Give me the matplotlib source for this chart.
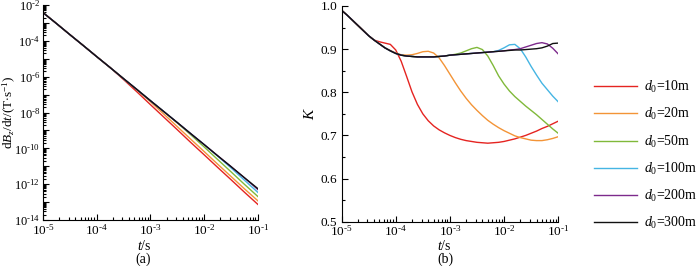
import numpy as np
import matplotlib
matplotlib.use('Agg')
import matplotlib.pyplot as plt
from matplotlib.ticker import FixedLocator, LogLocator, NullFormatter, MultipleLocator

plt.rcParams['font.family'] = 'Liberation Serif'
plt.rcParams['mathtext.fontset'] = 'custom'
plt.rcParams['mathtext.rm'] = 'Liberation Serif'
plt.rcParams['mathtext.it'] = 'Liberation Serif:italic'
plt.rcParams['font.size'] = 10

labels = ['$d_0$=10m', '$d_0$=20m', '$d_0$=50m', '$d_0$=100m', '$d_0$=200m', '$d_0$=300m']
colors = ['#e52421', '#f39437', '#80b93a', '#45b5e3', '#7d2a8c', '#111111']

# (a) log10(t) and log10(dBz/dt)
logt_a = [-5, -4.75, -4.5, -4.25, -4, -3.75, -3.5, -3.25, -3, -2.75, -2.5, -2.25, -2, -1.75, -1.5, -1.25, -1]
dbdt_10 = [-2.42, -3.03, -3.65, -4.26, -4.88, -5.49, -6.16, -6.85, -7.56, -8.26, -8.96, -9.67, -10.36, -11.06, -11.75, -12.45, -13.13]
dbdt_20 = [-2.42, -3.03, -3.65, -4.26, -4.88, -5.49, -6.11, -6.74, -7.40, -8.09, -8.79, -9.49, -10.18, -10.88, -11.57, -12.26, -12.93]
dbdt_50 = [-2.42, -3.03, -3.65, -4.26, -4.88, -5.49, -6.11, -6.72, -7.34, -7.95, -8.58, -9.24, -9.92, -10.62, -11.31, -12.01, -12.69]
dbdt_100 = [-2.42, -3.03, -3.65, -4.26, -4.88, -5.49, -6.11, -6.72, -7.34, -7.95, -8.56, -9.18, -9.79, -10.43, -11.09, -11.78, -12.46]
dbdt_200 = [-2.42, -3.03, -3.65, -4.26, -4.88, -5.49, -6.11, -6.72, -7.34, -7.95, -8.56, -9.18, -9.79, -10.41, -11.02, -11.65, -12.30]
dbdt_300 = [-2.42, -3.03, -3.65, -4.26, -4.88, -5.49, -6.11, -6.72, -7.34, -7.95, -8.56, -9.18, -9.79, -10.41, -11.02, -11.64, -12.25]

# (b) log10(t) and K
logt_b = [-5.0, -4.9, -4.8, -4.7, -4.6, -4.5, -4.4, -4.3, -4.2, -4.1, -4.0, -3.9, -3.8, -3.7,
          -3.6, -3.5, -3.4, -3.3, -3.2, -3.1, -3.0, -2.9, -2.8, -2.7, -2.6, -2.5, -2.4, -2.3,
          -2.2, -2.1, -2.0, -1.9, -1.8, -1.7, -1.6, -1.5, -1.4, -1.3, -1.2, -1.1, -1.0]
k_10 = [0.990, 0.979, 0.967, 0.955, 0.943, 0.931, 0.921, 0.917, 0.914, 0.911, 0.898, 0.872, 0.837, 0.801,
        0.772, 0.750, 0.734, 0.722, 0.713, 0.706, 0.700, 0.695, 0.691, 0.688, 0.686, 0.684, 0.683, 0.682,
        0.683, 0.684, 0.686, 0.689, 0.692, 0.696, 0.700, 0.705, 0.710, 0.716, 0.721, 0.727, 0.733]
k_20 = [0.990, 0.979, 0.967, 0.955, 0.943, 0.931, 0.921, 0.912, 0.903, 0.897, 0.891, 0.887, 0.886, 0.887,
        0.890, 0.894, 0.895, 0.891, 0.880, 0.862, 0.842, 0.822, 0.803, 0.786, 0.771, 0.758, 0.746, 0.735,
        0.726, 0.718, 0.711, 0.705, 0.699, 0.695, 0.692, 0.689, 0.688, 0.688, 0.690, 0.693, 0.697]
k_50 = [0.990, 0.979, 0.967, 0.955, 0.943, 0.931, 0.921, 0.912, 0.903, 0.896, 0.890, 0.886, 0.884, 0.883,
        0.882, 0.882, 0.882, 0.882, 0.883, 0.884, 0.886, 0.888, 0.891, 0.896, 0.901, 0.904, 0.899, 0.884,
        0.862, 0.838, 0.819, 0.803, 0.790, 0.779, 0.768, 0.758, 0.748, 0.737, 0.726, 0.715, 0.705]
k_100 = [0.990, 0.979, 0.967, 0.955, 0.943, 0.931, 0.921, 0.912, 0.903, 0.896, 0.890, 0.886, 0.884, 0.883,
         0.882, 0.882, 0.882, 0.882, 0.883, 0.884, 0.886, 0.887, 0.888, 0.889, 0.890, 0.891, 0.892, 0.893,
         0.894, 0.897, 0.903, 0.910, 0.911, 0.901, 0.882, 0.860, 0.840, 0.821, 0.806, 0.791, 0.778]
k_200 = [0.990, 0.979, 0.967, 0.955, 0.943, 0.931, 0.921, 0.912, 0.903, 0.896, 0.890, 0.886, 0.884, 0.883,
         0.882, 0.882, 0.882, 0.882, 0.883, 0.884, 0.886, 0.887, 0.888, 0.889, 0.890, 0.891, 0.892, 0.893,
         0.894, 0.895, 0.896, 0.898, 0.899, 0.901, 0.905, 0.909, 0.913, 0.915, 0.912, 0.902, 0.889]
k_300 = [0.990, 0.979, 0.967, 0.955, 0.943, 0.931, 0.921, 0.912, 0.903, 0.896, 0.890, 0.886, 0.884, 0.883,
         0.882, 0.882, 0.882, 0.882, 0.883, 0.884, 0.886, 0.887, 0.888, 0.889, 0.890, 0.891, 0.892, 0.893,
         0.894, 0.895, 0.896, 0.897, 0.898, 0.898, 0.899, 0.900, 0.901, 0.903, 0.907, 0.913, 0.914]

x_exp = [-5, -4, -3, -2, -1]
y_exp = [-14, -13, -12, -11, -10, -9, -8, -7, -6, -5, -4, -3, -2]

dbdt_all = [dbdt_10, dbdt_20, dbdt_50, dbdt_100, dbdt_200, dbdt_300]
k_all = [k_10, k_20, k_50, k_100, k_200, k_300]


def sci(e):
    # short hyphen keeps the labels as narrow as in the original
    return '$10^{\u2010%d}$' % abs(e)


fig = plt.figure(figsize=(7, 2.66), dpi=100)
ax1 = fig.add_axes([0.0614, 0.173, 0.307, 0.808])
ax2 = fig.add_axes([0.488, 0.1665, 0.3094, 0.811])

t_a = 10.0 ** np.array(logt_a)
t_b = 10.0 ** np.array(logt_b)
for i in range(6):
    ax1.plot(t_a, 10.0 ** np.array(dbdt_all[i]), color=colors[i], lw=1.0)
    ax2.plot(t_b, k_all[i], color=colors[i], lw=1.0, label=labels[i])

for ax in (ax1, ax2):
    ax.set_xscale('log')
    ax.set_xlim(1e-5, 1e-1)
    ax.spines['top'].set_visible(False)
    ax.spines['right'].set_visible(False)
    ax.set_xticks([10.0 ** e for e in x_exp])
    ax.set_xticklabels([sci(e) for e in x_exp])
    ax.xaxis.set_minor_locator(LogLocator(base=10, subs=np.arange(2, 10), numticks=20))
    ax.xaxis.set_minor_formatter(NullFormatter())
    ax.tick_params(which='both', direction='in', labelsize=9.5)
    ax.tick_params(which='major', length=4.5, width=0.8)
    ax.tick_params(which='minor', length=2.5, width=0.8)
    ax.tick_params(axis='x', pad=2)
    ax.tick_params(axis='y', pad=3)

ax1.set_yscale('log')
ax1.set_ylim(1e-14, 1e-2)
ax1.set_yticks([10.0 ** e for e in y_exp])
ax1.set_yticklabels([sci(e) if e % 2 == 0 else '' for e in y_exp])
ax1.tick_params(axis='y', labelsize=9, pad=2)
ax1.yaxis.set_minor_locator(LogLocator(base=10, subs=np.arange(2, 10), numticks=30))
ax1.yaxis.set_minor_formatter(NullFormatter())
ax1.set_ylabel(r'd$B_z$/d$t$/(T$\cdot$s$^{-1}$)', fontsize=9.5)
ax1.yaxis.set_label_coords(-0.118, 0.5)

ax2.set_ylim(0.5, 1.0)
ax2.yaxis.set_major_locator(MultipleLocator(0.1))
ax2.yaxis.set_minor_locator(MultipleLocator(0.05))
ax2.set_ylabel('$K$', fontsize=11)
ax2.yaxis.set_label_coords(-0.115, 0.5)

fig.text(144 / 700, 1 - 246 / 266, '$t$/s', ha='center', va='center', fontsize=10)
fig.text(143 / 700, 1 - 259 / 266, '(a)', ha='center', va='center', fontsize=10)
fig.text(444 / 700, 1 - 246 / 266, '$t$/s', ha='center', va='center', fontsize=10)
fig.text(445 / 700, 1 - 259 / 266, '(b)', ha='center', va='center', fontsize=10)

fig.legend(*ax2.get_legend_handles_labels(), loc='upper left', bbox_to_anchor=(594 / 700, 1 - 79 / 266),
           frameon=False, fontsize=10, handlelength=3.1, handletextpad=0.5, labelspacing=0.8,
           borderaxespad=0, borderpad=0)

fig.savefig('out.png', dpi=100)
